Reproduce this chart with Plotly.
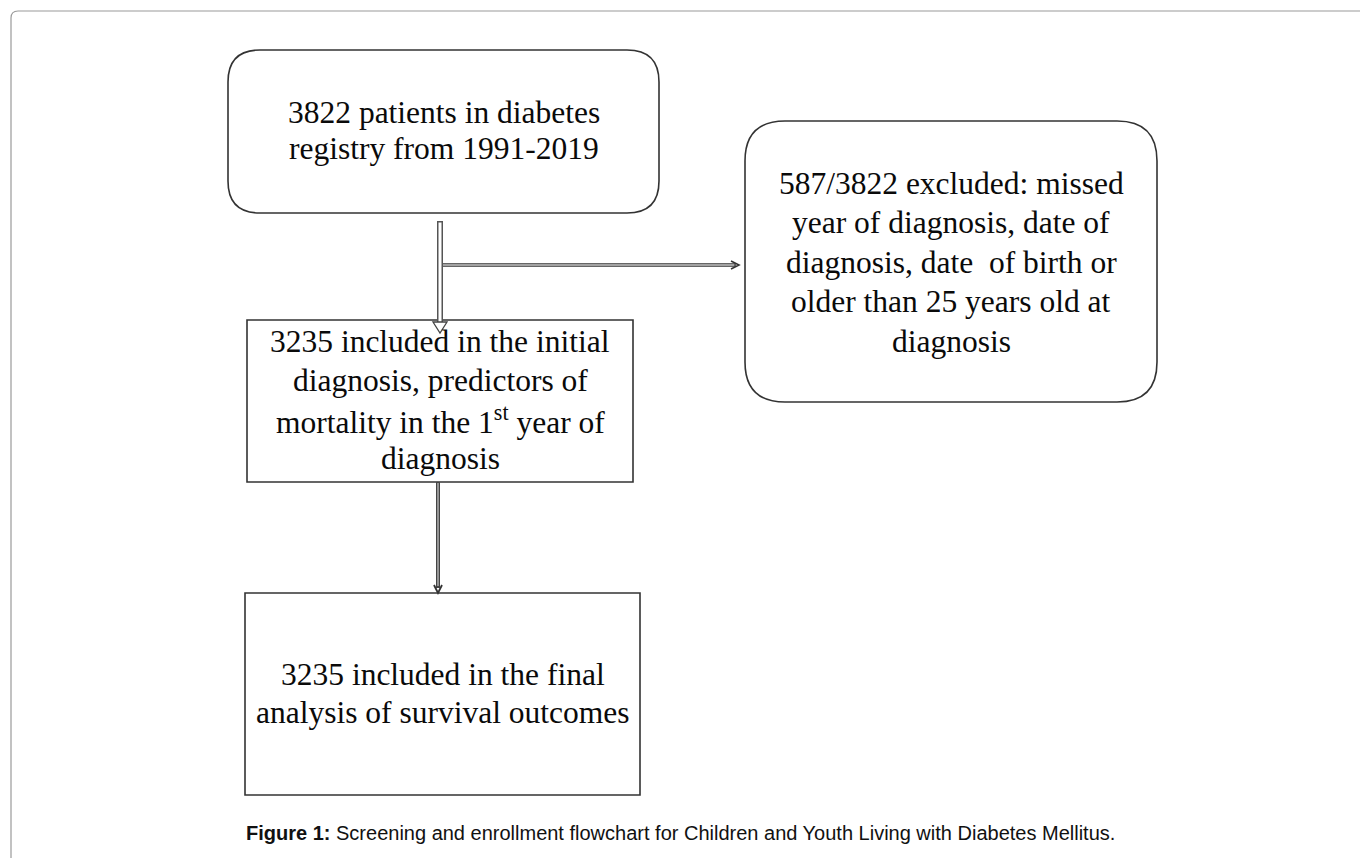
import plotly.graph_objects as go

W, H = 1360, 858

# ---- data: text of each box (one entry per line) ----
box1_lines = ["3822 patients in diabetes", "registry from 1991-2019"]
box2_lines = ["587/3822 excluded: missed", "year of diagnosis, date of",
              "diagnosis, date\u00a0 of birth or", "older than 25 years old at", "diagnosis"]
box3_lines = ["3235 included in the initial", "diagnosis, predictors of",
              "mortality in the 1<sup>st</sup> year of", "diagnosis"]
box4_lines = ["3235 included in the final", "analysis of survival outcomes"]
caption_bold = "Figure 1:"
caption_text = " Screening and enrollment flowchart for Children and Youth Living with Diabetes Mellitus."

# ---- layout geometry (pixels, y downward) ----
BOXES = [
    dict(lines=box1_lines, x0=228, y0=50, x1=659, y1=213, r=32, first=113, step=36),
    dict(lines=box2_lines, x0=745, y0=121, x1=1157, y1=402, r=40, first=184, step=39.5),
    dict(lines=box3_lines, x0=247, y0=320, x1=633, y1=482, r=0, first=342, step=39.3),
    dict(lines=box4_lines, x0=245, y0=593, x1=640, y1=795, r=0, first=675, step=38.5),
]
BOX_FONT = dict(family="Liberation Serif, Times New Roman, serif", size=31.5, color="#0a0a0a")
LINE_COL = "#333333"


def rrect(x0, y0, x1, y1, r):
    if r <= 0:
        return f"M{x0},{y0} L{x1},{y0} L{x1},{y1} L{x0},{y1} Z"
    return (f"M{x0+r},{y0} L{x1-r},{y0} Q{x1},{y0} {x1},{y0+r} L{x1},{y1-r} "
            f"Q{x1},{y1} {x1-r},{y1} L{x0+r},{y1} Q{x0},{y1} {x0},{y1-r} "
            f"L{x0},{y0+r} Q{x0},{y0} {x0+r},{y0} Z")


fig = go.Figure()
fig.add_trace(go.Scatter(x=[0, W], y=[0, H], mode="markers",
                         marker=dict(opacity=0), hoverinfo="skip", showlegend=False))

shapes = []
annotations = []

# outer page frame
shapes.append(dict(type="path", path=rrect(11, 11, 1375, 880, 7), xref="x", yref="y",
                   line=dict(color="#9a9a9a", width=1.2), fillcolor="rgba(0,0,0,0)", layer="below"))

for b in BOXES:
    shapes.append(dict(type="path", path=rrect(b["x0"], b["y0"], b["x1"], b["y1"], b["r"]),
                       xref="x", yref="y", line=dict(color=LINE_COL, width=1.6),
                       fillcolor="white", layer="below"))
    cx = (b["x0"] + b["x1"]) / 2
    for i, t in enumerate(b["lines"]):
        annotations.append(dict(x=cx, y=b["first"] + i * b["step"] - 1, xref="x", yref="y",
                                text=t, showarrow=False, xanchor="center", yanchor="middle",
                                font=BOX_FONT))

# arrow 1: hollow double-line vertical arrow box1 -> box3
ax = 440
shapes.append(dict(type="line", x0=ax, x1=ax, y0=221, y1=326, xref="x", yref="y",
                   line=dict(color="#555555", width=6)))
shapes.append(dict(type="line", x0=ax, x1=ax, y0=222.5, y1=326, xref="x", yref="y",
                   line=dict(color="white", width=3)))
shapes.append(dict(type="path", path=f"M{ax-7},{322} L{ax+7},{322} L{ax},{333} Z",
                   xref="x", yref="y", line=dict(color="#444444", width=1.3), fillcolor="white"))

# side branch: double line to box2
shapes.append(dict(type="line", x0=ax + 3, x1=736, y0=265, y1=265, xref="x", yref="y",
                   line=dict(color="#666666", width=4)))
shapes.append(dict(type="line", x0=ax + 3, x1=734, y0=265, y1=265, xref="x", yref="y",
                   line=dict(color="#dddddd", width=1.2)))
shapes.append(dict(type="path", path="M731,261 L739,265 L731,269", xref="x", yref="y",
                   line=dict(color="#333333", width=1.6)))

# arrow 2: double line box3 -> box4
bx = 438
shapes.append(dict(type="line", x0=bx, x1=bx, y0=482, y1=588, xref="x", yref="y",
                   line=dict(color="#444444", width=4)))
shapes.append(dict(type="line", x0=bx, x1=bx, y0=483, y1=586, xref="x", yref="y",
                   line=dict(color="#cccccc", width=1.2)))
shapes.append(dict(type="path", path=f"M{bx-4},585 L{bx},593 L{bx+4},585", xref="x", yref="y",
                   line=dict(color="#333333", width=1.8)))

# caption
annotations.append(dict(x=680, y=833, xref="x", yref="y", showarrow=False,
                        xanchor="center", yanchor="middle",
                        text=f"<b>{caption_bold}</b>{caption_text}",
                        font=dict(family="Liberation Sans, Arial, sans-serif", size=20,
                                  color="#111111")))

fig.update_layout(
    width=W, height=H, margin=dict(l=0, r=0, t=0, b=0),
    paper_bgcolor="white", plot_bgcolor="white",
    xaxis=dict(range=[0, W], visible=False, fixedrange=True),
    yaxis=dict(range=[H, 0], visible=False, fixedrange=True),
    shapes=shapes, annotations=annotations, showlegend=False,
)

fig.write_html("out.html", config={"displayModeBar": False, "staticPlot": True},
               post_script="document.body.style.margin='0px';document.body.style.overflow='hidden';")
